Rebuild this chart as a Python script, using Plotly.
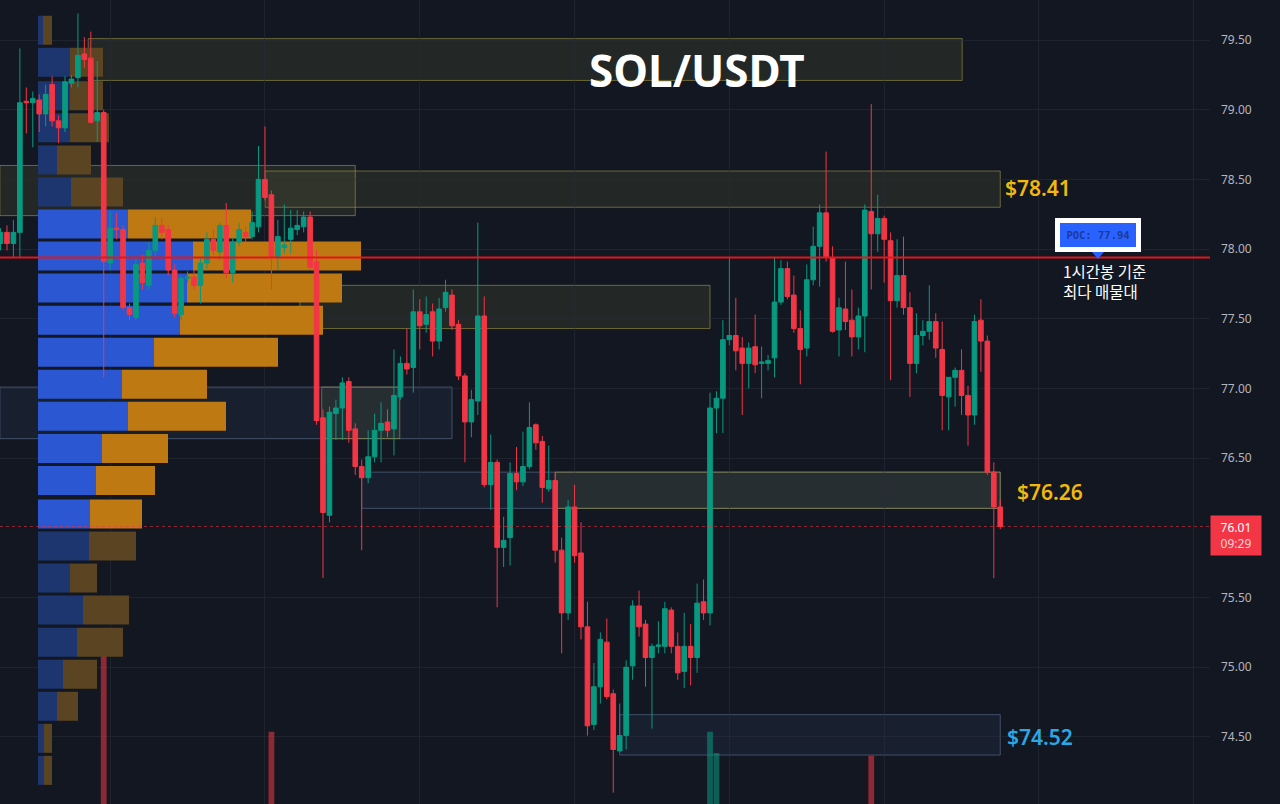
import plotly.graph_objects as go

# ---------------- 1h candles (SOL/USDT) ----------------
opens = [78.04, 78.12, 78.04, 78.12, 79.06, 79.05, 79.07, 78.97, 79.18, 78.92,
         78.87, 79.19, 79.23, 79.40, 79.37, 78.92, 78.98, 77.90, 78.15, 78.14,
         77.58, 77.51, 77.90, 77.74, 77.99, 78.17, 78.14, 77.85, 77.53, 77.79,
         77.80, 77.74, 77.90, 78.07, 77.98, 78.17, 77.83, 78.05, 78.12, 78.09,
         78.16, 78.50, 78.39, 77.94, 78.01, 78.07, 78.14, 78.16, 78.23, 77.91,
         76.79, 76.09, 76.82, 76.86, 77.05, 76.71, 76.44, 76.36, 76.51, 76.70,
         76.76, 76.71, 76.94, 77.18, 77.15, 77.55, 77.46, 77.55, 77.34, 77.58,
         77.67, 77.46, 77.09, 76.76, 76.91, 77.52, 76.31, 76.47, 75.86, 75.93,
         76.39, 76.33, 76.44, 76.74, 76.62, 76.28, 76.34, 75.84, 75.39, 76.15,
         75.82, 75.29, 74.59, 74.86, 75.18, 74.81, 74.40, 74.51, 75.01, 75.44,
         75.31, 75.07, 75.15, 75.15, 75.41, 75.15, 74.97, 75.15, 75.07, 75.47,
         75.39, 76.86, 76.93, 77.35, 77.38, 77.29, 77.18, 77.30, 77.18, 77.18,
         77.22, 77.62, 77.86, 77.67, 77.43, 77.29, 77.78, 78.02, 78.26, 77.94,
         77.42, 77.57, 77.49, 77.37, 77.52, 78.27, 78.11, 78.22, 78.06, 77.63,
         77.81, 77.58, 77.18, 77.38, 77.41, 77.48, 77.28, 76.94, 77.08, 77.13,
         76.95, 76.81, 77.49, 77.34, 76.40, 76.15]
highs = [78.15, 78.17, 78.21, 79.44, 79.16, 79.13, 79.11, 79.18, 79.24, 78.96,
         79.24, 79.25, 79.69, 79.52, 79.56, 79.35, 79.00, 78.27, 78.26, 78.17,
         77.61, 77.94, 77.96, 78.05, 78.23, 78.22, 78.17, 77.89, 77.81, 77.84,
         77.85, 77.94, 78.12, 78.14, 78.19, 78.33, 78.08, 78.19, 78.16, 78.27,
         78.74, 78.88, 78.42, 78.21, 78.32, 78.28, 78.28, 78.27, 78.27, 77.99,
         76.85, 76.87, 76.92, 77.08, 77.08, 76.75, 76.49, 76.70, 76.82, 76.90,
         76.85, 77.28, 77.23, 77.43, 77.71, 77.64, 77.66, 77.61, 77.65, 77.78,
         77.71, 77.49, 77.11, 76.99, 78.19, 77.66, 76.67, 76.49, 76.08, 76.47,
         76.58, 76.69, 76.90, 76.75, 76.66, 76.59, 76.40, 75.93, 76.20, 76.31,
         76.04, 75.47, 75.03, 75.25, 75.35, 74.84, 74.74, 75.05, 75.48, 75.55,
         75.34, 75.17, 75.33, 75.47, 75.43, 75.25, 75.39, 75.31, 75.60, 75.63,
         76.97, 76.98, 77.49, 77.94, 77.65, 77.37, 77.33, 77.53, 77.30, 77.24,
         77.94, 77.92, 77.91, 77.81, 77.56, 77.89, 78.16, 78.32, 78.70, 78.02,
         77.65, 77.91, 77.71, 77.58, 78.32, 79.04, 78.39, 78.24, 78.12, 78.07,
         78.09, 77.69, 77.54, 77.49, 77.74, 77.54, 77.48, 77.08, 77.15, 77.28,
         77.02, 77.53, 77.64, 77.38, 76.47, 76.20]
lows = [77.99, 77.99, 77.94, 77.94, 78.83, 78.73, 78.84, 78.88, 78.88, 78.76,
        78.84, 79.16, 79.16, 79.30, 78.90, 78.77, 77.08, 77.85, 78.07, 77.56,
        77.49, 77.49, 77.71, 77.71, 77.94, 78.07, 77.81, 77.51, 77.49, 77.76,
        77.71, 77.61, 77.86, 77.96, 77.92, 77.79, 77.76, 78.02, 78.05, 78.07,
        78.12, 78.35, 77.71, 77.85, 77.97, 77.97, 78.10, 78.12, 77.85, 76.74,
        75.64, 76.04, 76.63, 76.63, 76.61, 76.38, 75.84, 76.32, 76.47, 76.47,
        76.65, 76.52, 76.92, 77.10, 76.97, 77.28, 77.40, 77.23, 77.28, 77.55,
        77.42, 77.06, 76.47, 76.65, 76.81, 76.29, 76.13, 75.43, 75.72, 75.73,
        76.27, 76.30, 76.42, 76.56, 76.18, 76.26, 75.75, 75.10, 75.34, 75.75,
        75.20, 74.51, 74.55, 74.74, 74.77, 74.10, 74.39, 74.41, 74.91, 75.22,
        74.86, 74.56, 75.10, 75.10, 75.10, 74.91, 74.85, 74.87, 74.96, 75.34,
        75.30, 76.68, 76.68, 77.31, 77.13, 76.81, 77.00, 77.11, 76.93, 77.13,
        77.08, 77.60, 77.64, 77.40, 77.03, 77.23, 77.74, 77.73, 77.91, 77.40,
        77.23, 77.42, 77.23, 77.28, 77.26, 77.71, 77.98, 77.76, 77.06, 77.58,
        77.53, 76.94, 77.11, 77.31, 77.35, 77.22, 76.70, 76.70, 76.87, 76.81,
        76.59, 76.74, 77.12, 76.38, 75.64, 75.99]
closes = [78.12, 78.04, 78.12, 79.05, 79.05, 79.08, 78.97, 79.11, 78.92, 78.87,
          79.20, 79.22, 79.39, 79.36, 78.91, 78.98, 77.91, 78.15, 78.14, 77.58,
          77.53, 77.89, 77.76, 77.99, 78.17, 78.12, 77.85, 77.54, 77.79, 77.80,
          77.74, 77.90, 78.07, 77.99, 78.17, 77.83, 78.05, 78.14, 78.09, 78.19,
          78.50, 78.37, 77.94, 78.09, 78.03, 78.15, 78.17, 78.23, 77.87, 76.77,
          76.11, 76.83, 76.86, 77.04, 76.70, 76.44, 76.36, 76.51, 76.70, 76.75,
          76.70, 76.95, 77.18, 77.14, 77.55, 77.45, 77.53, 77.34, 77.57, 77.69,
          77.45, 77.09, 76.76, 76.92, 77.52, 76.31, 76.47, 75.86, 75.91, 76.39,
          76.33, 76.44, 76.72, 76.61, 76.29, 76.34, 75.84, 75.39, 76.15, 75.80,
          75.29, 74.58, 74.86, 75.20, 74.79, 74.41, 74.51, 75.00, 75.44, 75.29,
          75.07, 75.15, 75.16, 75.42, 75.15, 74.96, 75.15, 75.07, 75.46, 75.39,
          76.86, 76.93, 77.35, 77.38, 77.27, 77.18, 77.29, 77.17, 77.19, 77.20,
          77.62, 77.86, 77.66, 77.43, 77.28, 77.78, 78.02, 78.26, 77.94, 77.41,
          77.58, 77.48, 77.37, 77.52, 78.28, 78.11, 78.22, 78.07, 77.63, 77.81,
          77.58, 77.18, 77.38, 77.41, 77.48, 77.29, 76.95, 77.08, 77.13, 76.95,
          76.81, 77.48, 77.34, 76.40, 76.15, 76.01]
candle_idx = list(range(len(opens)))

# Volume spikes that reach into the visible window (others are below the frame)
vol_idx = [16, 42, 110, 111, 135]
vol_val = [155, 127, 127, 119, 118]

# ---------------- Volume profile ----------------
vp_levels = [79.57, 79.34, 79.10, 78.87, 78.64, 78.41, 78.18, 77.95, 77.72, 77.49,
             77.26, 77.03, 76.80, 76.57, 76.34, 76.10, 75.87, 75.64, 75.41, 75.18,
             74.95, 74.72, 74.49, 74.26]
vp_buy = [5, 32, 32, 32, 19, 33, 90, 155, 149, 142, 116, 84, 90, 64, 58, 52,
          51, 32, 45, 39, 25, 19, 6, 6]
vp_sell = [9, 33, 33, 39, 34, 52, 123, 168, 155, 143, 124, 85, 98, 66, 59, 52,
           47, 27, 46, 46, 34, 21, 8, 8]
poc = 77.94
vah, val = 78.18, 76.10

# ---------------- Zones: (start candle, end candle, top, bottom, kind) ----------------
zones = [
    (13.6, 149.1, 79.51, 79.21, "olive"),
    (-0.1, 55.0, 78.60, 78.24, "olive"),
    (41.0, 155.0, 78.56, 78.30, "olive"),
    (46.4, 110.0, 77.74, 77.43, "olive"),
    (-0.1, 70.0, 77.01, 76.64, "blue"),
    (49.8, 61.9, 77.01, 76.64, "olive"),
    (56.0, 155.0, 76.40, 76.14, "blue"),
    (86.0, 155.0, 76.40, 76.14, "olive"),
    (96.0, 155.0, 74.66, 74.37, "blue"),
]
level_labels = [("$78.41", 78.41), ("$76.26", 76.26), ("$74.52", 74.52)]
price_ticks = [74.50, 75.00, 75.50, 76.50, 77.00, 77.50, 78.00, 78.50, 79.00, 79.50]
grid_idx = [17, 41, 65, 89, 113, 137, 161, 185]
countdown = "09:29"

BG = "#131722"
GRID = "rgba(42,46,57,0.55)"
GREEN = "#089981"
RED = "#f23645"
FONT = "Noto Sans, Noto Sans CJK KR, sans-serif"

in_va = [val <= lv <= vah for lv in vp_levels]
buy_colors = ["#2b57d2" if v else "#1e3670" for v in in_va]
sell_colors = ["#bf7912" if v else "#5a4422" for v in in_va]

fig = go.Figure()

# volume profile (base subplot, drawn under candles)
fig.add_trace(go.Bar(y=vp_levels, x=vp_buy, orientation="h", xaxis="x", yaxis="y",
                     width=0.208, marker=dict(color=buy_colors, line_width=0),
                     hoverinfo="skip"))
fig.add_trace(go.Bar(y=vp_levels, x=vp_sell, base=vp_buy, orientation="h",
                     xaxis="x", yaxis="y", width=0.208,
                     marker=dict(color=sell_colors, line_width=0), hoverinfo="skip"))

# candles (overlay subplot)
fig.add_trace(go.Candlestick(
    x=candle_idx, open=opens, high=highs, low=lows, close=closes,
    xaxis="x2", yaxis="y",
    increasing=dict(line=dict(color=GREEN, width=1), fillcolor=GREEN),
    decreasing=dict(line=dict(color=RED, width=1), fillcolor=RED),
    whiskerwidth=0, hoverinfo="skip"))

# volume spikes
vol_colors = []
for i in vol_idx:
    vol_colors.append("rgba(8,153,129,0.55)" if closes[i] >= opens[i] else "rgba(242,54,69,0.55)")
fig.add_trace(go.Bar(x=vol_idx, y=vol_val, xaxis="x2", yaxis="y3", width=0.9,
                     marker=dict(color=vol_colors, line_width=0), hoverinfo="skip"))

shapes = []
for x0, x1, top, bot, kind in zones:
    if kind == "olive":
        fc, lc = "rgba(150,145,70,0.13)", "rgba(185,175,75,0.50)"
    else:
        fc, lc = "rgba(70,105,155,0.11)", "rgba(120,145,185,0.45)"
    shapes.append(dict(type="rect", xref="x2", yref="y", x0=x0, x1=x1, y0=bot, y1=top,
                       fillcolor=fc, line=dict(color=lc, width=1), layer="below"))

# POC line
shapes.append(dict(type="line", xref="paper", yref="y", x0=0, x1=1, y0=poc, y1=poc,
                   line=dict(color="#e3161b", width=2), layer="above"))
# current price dotted line
shapes.append(dict(type="line", xref="paper", yref="y", x0=0, x1=1,
                   y0=closes[-1], y1=closes[-1],
                   line=dict(color="rgba(242,54,69,0.55)", width=1, dash="dot"), layer="above"))
# POC label pointer
W, H = 1210.0, 804.0
shapes.append(dict(type="path", xref="paper", yref="paper",
                   path=f"M {1092/W},{1-252/H} L {1104/W},{1-252/H} L {1098/W},{1-259/H} Z",
                   fillcolor="#2962ff", line=dict(width=0), layer="above"))

annotations = [
    dict(text="<b>SOL/USDT</b>", xref="paper", yref="paper", x=697 / W, y=1 - 70 / H,
         xanchor="center", yanchor="middle", showarrow=False,
         font=dict(family=FONT, size=44, color="#ffffff")),
    dict(text=f"<b>POC: {poc:.2f}</b>", xref="paper", yref="paper", x=1098 / W, y=1 - 234.5 / H,
         xanchor="center", yanchor="middle", showarrow=False,
         font=dict(family="DejaVu Sans Mono, monospace", size=10.5, color="#1b3a9c"),
         bgcolor="#2962ff", bordercolor="#ffffff", borderwidth=5, borderpad=4,
         width=68, height=16),
    dict(text="1시간봉 기준<br>최다 매물대", xref="paper", yref="paper", x=1061 / W,
         y=1 - 281 / H, xanchor="left", yanchor="middle", align="left", showarrow=False,
         font=dict(family="Noto Sans CJK KR", size=15.5, color="#ffffff")),
    dict(text=f"{closes[-1]:.2f}<br><span style='color:#ffd2d6'>{countdown}</span>",
         xref="paper", yref="paper", x=1.0, y=1 - 535 / H, xanchor="left", yanchor="middle",
         showarrow=False, align="center",
         font=dict(family=FONT, size=12, color="#ffffff"),
         bgcolor=RED, borderpad=3, width=44),
]
label_pos = {"$78.41": (1003, 4, "#f0b90b"), "$76.26": (1015, 0, "#f0b90b"),
             "$74.52": (1005, -3, "#2aa8e6")}
for txt, lvl in level_labels:
    px, ys, col = label_pos[txt]
    annotations.append(dict(text=txt, xref="paper", yref="y", x=px / W, y=lvl, yshift=ys,
                            xanchor="left", yanchor="middle", showarrow=False,
                            font=dict(family=FONT, size=21, color=col, weight=600)))

fig.update_layout(
    width=1280, height=804,
    margin=dict(l=0, r=70, t=0, b=0),
    paper_bgcolor=BG, plot_bgcolor=BG,
    showlegend=False, barmode="overlay",
    boxgap=0.1, boxgroupgap=0.2,
    xaxis=dict(range=[-38, 1172], domain=[0, 1], visible=False, fixedrange=True),
    xaxis2=dict(overlaying="x", anchor="y", range=[-0.08, 187.52], tickvals=grid_idx,
                showticklabels=False, ticks="", showgrid=True, gridcolor=GRID,
                zeroline=False, showline=False, rangeslider=dict(visible=False)),
    yaxis=dict(range=[74.019, 79.787], side="right", tickvals=price_ticks,
               ticktext=[f"{t:.2f}" for t in price_ticks],
               tickfont=dict(family=FONT, size=12, color="#b2b5be"),
               gridcolor=GRID, zeroline=False, showline=False, ticks="",
               ticklabelstandoff=10),
    yaxis3=dict(overlaying="y", anchor="x2", range=[100, 400], visible=False),
    shapes=shapes,
    annotations=annotations,
)

fig.write_html("out.html")
